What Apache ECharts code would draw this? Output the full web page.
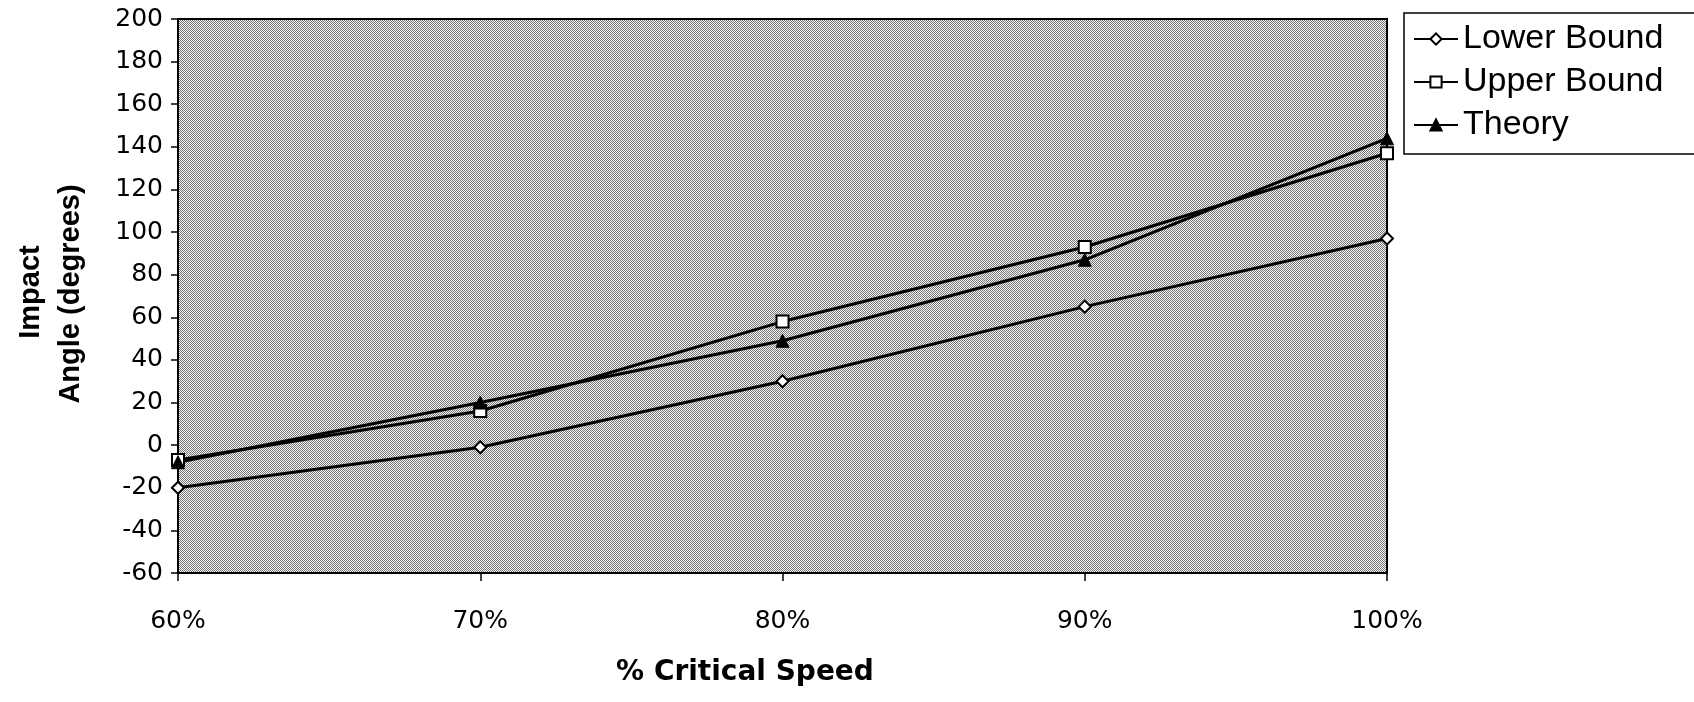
<!DOCTYPE html>
<html>
<head>
<meta charset="utf-8">
<script src="https://cdn.jsdelivr.net/npm/echarts@6/dist/echarts.min.js"></script>
<style>
  html, body { margin: 0; padding: 0; background: #ffffff; }
  #chart { width: 1694px; height: 702px; }
</style>
</head>
<body>
<div id="chart"></div>
<script>
// Impact angle versus percentage of critical speed
const categories = ['60%', '70%', '80%', '90%', '100%'];
const lowerBound = [-20, -1, 30, 65, 97];
const upperBound = [-7, 16, 58, 93, 137];
const theory = [-8, 20, 49, 87, 144];

const seriesNames = ['Lower Bound', 'Upper Bound', 'Theory'];

// Stippled halftone fill for the plotting area (fine checker)
function stippleTile() {
  const c = document.createElement('canvas');
  c.width = 2; c.height = 2;
  const ctx = c.getContext('2d');
  ctx.fillStyle = '#f6f6f6';
  ctx.fillRect(0, 0, 2, 2);
  ctx.fillStyle = '#767676';
  ctx.fillRect(0, 0, 1, 1);
  ctx.fillRect(1, 1, 1, 1);
  return c;
}

const chart = echarts.init(document.getElementById('chart'), null, { renderer: 'canvas' });

const tickFont = { fontFamily: 'DejaVu Sans', fontSize: 25, color: '#000' };

chart.setOption({
  animation: false,
  backgroundColor: '#ffffff',
  grid: {
    left: 178,
    right: 307,
    top: 19,
    bottom: 129,
    show: true,
    borderColor: '#000',
    borderWidth: 2,
    backgroundColor: { image: stippleTile(), repeat: 'repeat' }
  },
  legend: {
    orient: 'vertical',
    left: 1404,
    top: 13,
    data: seriesNames,
    itemWidth: 44,
    itemHeight: 14,
    itemGap: 9,
    padding: [9, 34, 12, 9],
    borderColor: '#000',
    borderWidth: 1.5,
    backgroundColor: '#fff',
    textStyle: { fontFamily: 'Liberation Sans', fontSize: 34, color: '#000', lineHeight: 34 }
  },
  xAxis: {
    type: 'category',
    data: categories,
    boundaryGap: false,
    axisLine: { onZero: false, lineStyle: { color: '#000', width: 2 } },
    axisTick: { show: true, length: 8, lineStyle: { color: '#000', width: 1.5 } },
    axisLabel: Object.assign({ margin: 36 }, tickFont),
    splitLine: { show: false }
  },
  yAxis: {
    type: 'value',
    min: -60,
    max: 200,
    interval: 20,
    axisLine: { show: true, lineStyle: { color: '#000', width: 2 } },
    axisTick: { show: true, length: 7, lineStyle: { color: '#000', width: 1.5 } },
    axisLabel: Object.assign({ margin: 15 }, tickFont),
    splitLine: { show: false }
  },
  graphic: [
    {
      type: 'text', x: 31, y: 292, rotation: Math.PI / 2,
      style: { text: 'Impact', align: 'center', verticalAlign: 'middle',
        font: 'bold 29px "Liberation Sans"', fill: '#000' }
    },
    {
      type: 'text', x: 71, y: 294, rotation: Math.PI / 2,
      style: { text: 'Angle (degrees)', align: 'center', verticalAlign: 'middle',
        font: 'bold 29px "Liberation Sans"', fill: '#000' }
    },
    {
      type: 'text', x: 745, y: 673,
      style: { text: '% Critical Speed', align: 'center', verticalAlign: 'middle',
        font: 'bold 28px "DejaVu Sans"', fill: '#000' }
    }
  ],
  series: [
    {
      name: seriesNames[0], type: 'line', data: lowerBound,
      symbol: 'diamond', symbolSize: 12, showAllSymbol: true,
      lineStyle: { color: '#000', width: 3 },
      itemStyle: { color: '#fff', borderColor: '#000', borderWidth: 2 }
    },
    {
      name: seriesNames[1], type: 'line', data: upperBound,
      symbol: 'rect', symbolSize: 12, showAllSymbol: true,
      lineStyle: { color: '#000', width: 3 },
      itemStyle: { color: '#fff', borderColor: '#000', borderWidth: 2 }
    },
    {
      name: seriesNames[2], type: 'line', data: theory,
      symbol: 'triangle', symbolSize: 13, showAllSymbol: true,
      lineStyle: { color: '#000', width: 3 },
      itemStyle: { color: '#000', borderColor: '#000', borderWidth: 1 }
    }
  ]
});
</script>
</body>
</html>
